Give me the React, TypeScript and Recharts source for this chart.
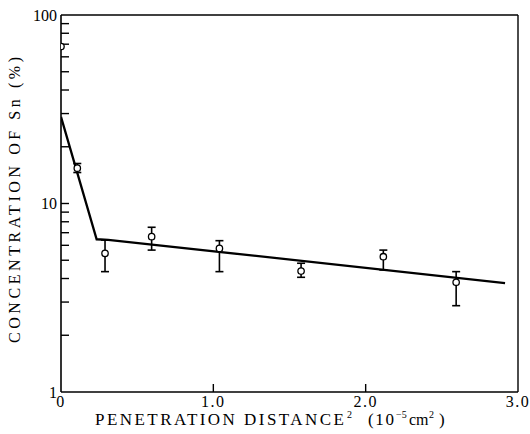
import React from 'react';
import {
  ComposedChart,
  Line,
  Scatter,
  ErrorBar,
  XAxis,
  YAxis,
  ReferenceLine,
} from 'recharts';

// measured points (x in 10^-5 cm^2, Sn %)
const pointX = [0.107, 0.289, 0.595, 1.04, 1.576, 2.116, 2.594];
const pointY = [15.4, 5.44, 6.67, 5.78, 4.38, 5.22, 3.82];
const pointLow = [14.6, 4.35, 5.66, 4.35, 4.06, 4.44, 2.87];
const pointHigh = [16.3, 6.4, 7.48, 6.35, 4.82, 5.66, 4.35];

// surface point, no error bar
const surfaceX = [0];
const surfaceY = [68];

// fitted line
const fitX = [0, 0.234, 0.31, 2.915];
const fitY = [28.8, 6.46, 6.42, 3.78];

const xTicks = [0, 1, 2, 3];
const yTicks = [1, 10, 100];
const yMinorTicks = [2, 3, 4, 5, 6, 7, 8, 9, 10, 20, 30, 40, 50, 60, 70, 80, 90];
const xMinorTicks = [1, 2];

const points = pointX.map((x, i) => ({
  x,
  y: pointY[i],
  err: [pointY[i] - pointLow[i], pointHigh[i] - pointY[i]],
}));
const surface = surfaceX.map((x, i) => ({ x, y: surfaceY[i] }));
const fit = fitX.map((x, i) => ({ x, y: fitY[i] }));
const yTickMarks = yMinorTicks.map((v) => ({ x: 0, y: v }));
const xTickMarks = xMinorTicks.map((v) => ({ x: v, y: 1 }));

const FONT = '"Liberation Serif", "DejaVu Serif", serif';

const OpenCircle = (props: any) => (
  <circle cx={props.cx} cy={props.cy} r={3.2} fill="#fff" stroke="#000" strokeWidth={1.3} />
);

// inward tick marks drawn at the scaled tick positions
const HTick = (props: any) => (
  <line x1={props.cx} x2={props.cx + 8} y1={props.cy} y2={props.cy} stroke="#000" strokeWidth={1.4} />
);
const VTick = (props: any) => (
  <line x1={props.cx} x2={props.cx} y1={props.cy} y2={props.cy - 8} stroke="#000" strokeWidth={1.4} />
);

const YTick = (props: any) => {
  const { x, y, payload } = props;
  return (
    <text x={x - 4} y={y} dy="0.36em" textAnchor="end" fontFamily={FONT} fontSize={16} fill="#000">
      {payload.value}
    </text>
  );
};

const XTick = (props: any) => {
  const { x, y, payload } = props;
  const v = payload.value;
  return (
    <text x={x} y={y + 15} textAnchor="middle" fontFamily={FONT} fontSize={16} fill="#000" letterSpacing={1.5}>
      {v === 0 ? '0' : v.toFixed(1)}
    </text>
  );
};

export default function App() {
  return (
    <div style={{ position: 'absolute', left: 0, top: 0, width: 530, height: 434, background: '#fff' }}>
      <ComposedChart width={530} height={434} margin={{ top: 15, right: 12, left: 0, bottom: 0 }}>
        <XAxis
          dataKey="x"
          type="number"
          domain={[0, 3]}
          ticks={xTicks}
          interval={0}
          tickSize={0}
          tickMargin={0}
          tickLine={false}
          tick={<XTick />}
          height={42}
          axisLine={{ stroke: '#000', strokeWidth: 1.6 }}
          allowDataOverflow
        />
        <YAxis
          dataKey="y"
          type="number"
          scale="log"
          domain={[1, 100]}
          ticks={yTicks}
          interval={0}
          tickSize={0}
          tickMargin={0}
          tickLine={false}
          tick={<YTick />}
          width={61}
          axisLine={{ stroke: '#000', strokeWidth: 1.6 }}
          allowDataOverflow
        />
        <ReferenceLine y={100} stroke="#000" strokeWidth={1.4} />
        <ReferenceLine x={3} stroke="#000" strokeWidth={1.4} />
        <Scatter data={yTickMarks} dataKey="y" shape={<HTick />} isAnimationActive={false} />
        <Scatter data={xTickMarks} dataKey="y" shape={<VTick />} isAnimationActive={false} />
        <Line
          data={fit}
          dataKey="y"
          type="linear"
          stroke="#000"
          strokeWidth={2.3}
          dot={false}
          isAnimationActive={false}
        />
        <Scatter data={points} dataKey="y" shape={<OpenCircle />} isAnimationActive={false}>
          <ErrorBar dataKey="err" direction="y" width={4} stroke="#000" strokeWidth={1.6} />
        </Scatter>
        <Scatter data={surface} dataKey="y" shape={<OpenCircle />} isAnimationActive={false} />
      </ComposedChart>
      <svg
        width={530}
        height={434}
        style={{ position: 'absolute', left: 0, top: 0, pointerEvents: 'none' }}
      >
        <text
          transform="translate(20 343) rotate(-90)"
          fontFamily={FONT}
          fontSize={16}
          textLength={286}
          lengthAdjust="spacing"
          fill="#000"
        >
          CONCENTRATION OF Sn (%)
        </text>
        <g fontFamily={FONT} fill="#000">
          <text x={95} y={425} fontSize={17} textLength={249} lengthAdjust="spacing">
            PENETRATION DISTANCE
          </text>
          <text x={347} y={418} fontSize={10}>2</text>
          <text x={368} y={425} fontSize={17} textLength={26} lengthAdjust="spacing">(10</text>
          <text x={396} y={418} fontSize={10}>−5</text>
          <text x={409} y={425} fontSize={16}>cm</text>
          <text x={429} y={418} fontSize={10}>2</text>
          <text x={439} y={425} fontSize={17}>)</text>
        </g>
      </svg>
    </div>
  );
}
